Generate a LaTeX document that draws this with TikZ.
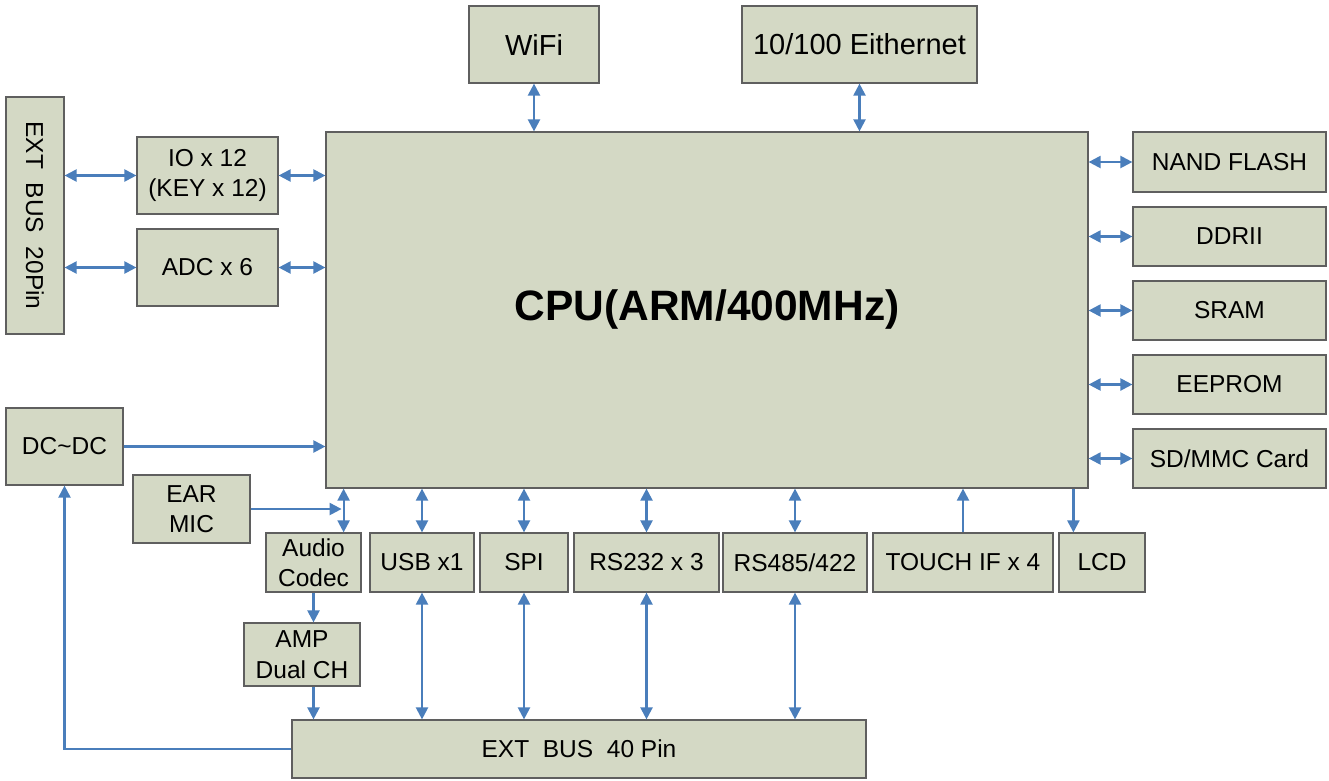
\documentclass[tikz,border=0pt]{standalone}
\usepackage{fontspec}
\setmainfont{Liberation Sans}
\usetikzlibrary{arrows.meta}

\definecolor{boxfill}{RGB}{212,217,197}
\definecolor{boxline}{RGB}{95,95,95}
\definecolor{wire}{RGB}{74,126,187}

\begin{document}
\begin{tikzpicture}[x=1pt, y=-1pt,
    blk/.style={draw=boxline, fill=boxfill, line width=1.2pt, inner sep=0pt, align=center, text=black},
    big/.style={font=\fontsize{29}{34}\selectfont},
    mid/.style={font=\fontsize{24.5}{30.5}\selectfont},
    link/.style={wire, line width=2.2pt, {Triangle[length=12pt,width=12pt]}-{Triangle[length=12pt,width=12pt]}},
    feed/.style={wire, line width=2.2pt, -{Triangle[length=12pt,width=12pt]}}]
    \useasboundingbox (0,0) rectangle (1329,780);

    % Define the processor and the blocks around it
    \node[blk, minimum width=762, minimum height=356, font=\fontsize{42.5}{48}\selectfont\bfseries] at (707,310) (cpu) {CPU(ARM/400MHz)};
    \node[blk, big, minimum width=130, minimum height=77] at (534,44.5) (wifi) {WiFi};
    \node[blk, big, minimum width=235, minimum height=77] at (859.5,44.5) (eth) {10/100 Eithernet};

    % Left side
    \node[blk, mid, minimum width=58, minimum height=237] at (35,215.5) (ext20) {\rotatebox{-90}{EXT\ \ BUS\ \ 20Pin}};
    \node[blk, mid, minimum width=141, minimum height=77] at (207.5,175.5) (io) {IO x 12\\(KEY x 12)};
    \node[blk, mid, minimum width=141, minimum height=77] at (207.5,267.5) (adc) {ADC x 6};
    \node[blk, mid, minimum width=117, minimum height=77] at (64.5,446.5) (dcdc) {DC\textasciitilde DC};
    \node[blk, mid, minimum width=117, minimum height=68] at (191.5,509) (ear) {EAR\\MIC};
    \node[blk, mid, minimum width=95, minimum height=59] at (313.5,562.5) (codec) {Audio\\Codec};
    \node[blk, mid, minimum width=116, minimum height=63] at (302,654.5) (amp) {AMP\\Dual CH};

    % Bottom row
    \node[blk, mid, minimum width=104, minimum height=59] at (422,562.5) (usb) {USB x1};
    \node[blk, mid, minimum width=88, minimum height=59] at (524,562.5) (spi) {SPI};
    \node[blk, mid, minimum width=145, minimum height=59] at (646.5,562.5) (rs232) {RS232 x 3};
    \node[blk, mid, minimum width=144, minimum height=59] at (795,562.5) (rs485) {RS485/422};
    \node[blk, mid, minimum width=180, minimum height=59] at (963,562.5) (touch) {TOUCH IF x 4};
    \node[blk, mid, minimum width=86, minimum height=59] at (1102,562.5) (lcd) {LCD};
    \node[blk, mid, minimum width=574, minimum height=58] at (579,749) (ext40) {EXT\ \ BUS\ \ 40 Pin};

    % Right side memories
    \node[blk, mid, minimum width=193, minimum height=60] at (1229.5,162) (nand) {NAND FLASH};
    \node[blk, mid, minimum width=193, minimum height=59] at (1229.5,236.5) (ddr) {DDRII};
    \node[blk, mid, minimum width=193, minimum height=59] at (1229.5,310.5) (sram) {SRAM};
    \node[blk, mid, minimum width=193, minimum height=59] at (1229.5,384.5) (eeprom) {EEPROM};
    \node[blk, mid, minimum width=193, minimum height=59] at (1229.5,458.5) (sd) {SD/MMC Card};

    \coordinate (tap) at ([xshift=-18pt]codec.north east);
    \coordinate (lcdin) at ([xshift=15pt]lcd.north west);

    % Top links
    \draw[link] (wifi.south) -- (wifi.south |- cpu.north);
    \draw[link] (eth.south) -- (eth.south |- cpu.north);

    % Left links
    \draw[link] (io.west -| ext20.east) -- (io.west);
    \draw[link] (io.east) -- (io.east -| cpu.west);
    \draw[link] (adc.west -| ext20.east) -- (adc.west);
    \draw[link] (adc.east) -- (adc.east -| cpu.west);
    \draw[feed] (dcdc.east) -- (dcdc.east -| cpu.west);
    \draw[feed] (ext40.west) -| (dcdc.south);

    % Audio path
    \draw[link] (tap) -- (tap |- cpu.south);
    \draw[feed, shorten >=2pt] (ear.east) -- (ear.east -| tap);
    \draw[feed] (codec.south) -- (codec.south |- amp.north);
    \draw[feed] (amp.south -| codec.south) -- (ext40.north -| codec.south);

    % Bottom links
    \draw[link] (usb.north) -- (usb.north |- cpu.south);
    \draw[link] (usb.south) -- (usb.south |- ext40.north);
    \draw[link] (spi.north) -- (spi.north |- cpu.south);
    \draw[link] (spi.south) -- (spi.south |- ext40.north);
    \draw[link] (rs232.north) -- (rs232.north |- cpu.south);
    \draw[link] (rs232.south) -- (rs232.south |- ext40.north);
    \draw[link] (rs485.north) -- (rs485.north |- cpu.south);
    \draw[link] (rs485.south) -- (rs485.south |- ext40.north);
    \draw[feed] (touch.north) -- (touch.north |- cpu.south);
    \draw[feed] (lcdin |- cpu.south) -- (lcdin);

    % Right links
    \draw[link] (nand.west -| cpu.east) -- (nand.west);
    \draw[link] (ddr.west -| cpu.east) -- (ddr.west);
    \draw[link] (sram.west -| cpu.east) -- (sram.west);
    \draw[link] (eeprom.west -| cpu.east) -- (eeprom.west);
    \draw[link] (sd.west -| cpu.east) -- (sd.west);

\end{tikzpicture}
\end{document}
